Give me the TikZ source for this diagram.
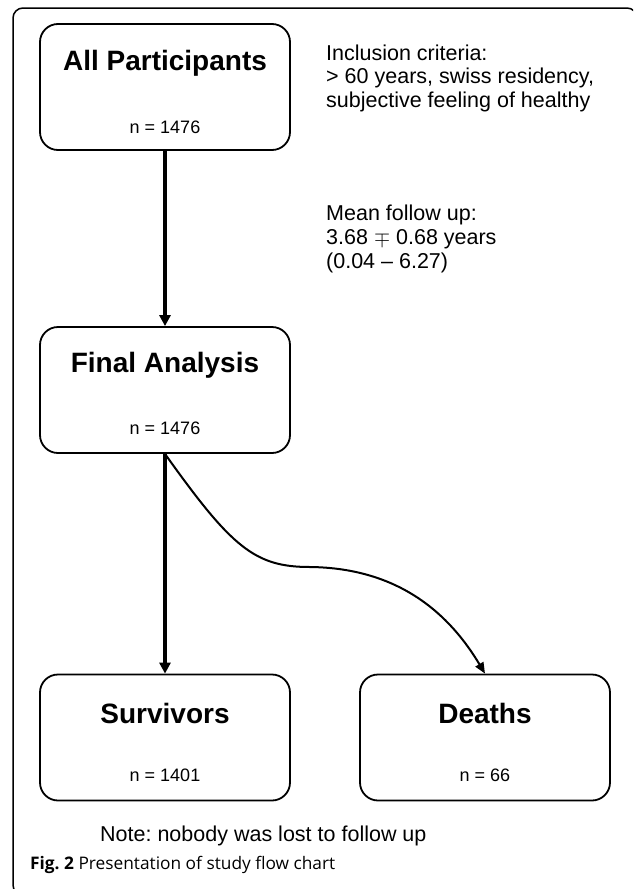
\documentclass[tikz,border=0pt]{standalone}
\usepackage{fontspec}
\setmainfont{Liberation Sans}
\newfontfamily\capfont{Open Sans}
\usetikzlibrary{arrows.meta}
\frenchspacing
\begin{document}
\begin{tikzpicture}[x=1pt,y=-1pt,
  flowbox/.style={draw=black, line width=1.8pt, rounded corners=18pt, minimum width=250pt, minimum height=126pt, inner sep=0pt},
  boxtitle/.style={font=\fontsize{28}{30}\selectfont\bfseries, inner sep=0pt},
  boxcount/.style={font=\fontsize{18}{20}\selectfont, inner sep=0pt},
  sidetext/.style={font=\fontsize{21.5}{24}\selectfont, inner sep=0pt, anchor=base west},
  thickarrow/.style={line width=3.5pt, -{Triangle[length=11pt,width=11pt]}},
  curvearrow/.style={line width=2pt, -{Triangle[length=11pt,width=9pt]}}
]
\useasboundingbox (0,0) rectangle (633,889);
\begin{scope}
\clip (0,0) rectangle (633,889);
\draw[line width=1.5pt, rounded corners=10pt] (13,8) rectangle (637,895);
\end{scope}

% boxes
\node[flowbox] (ap) at (165,87) {};
\node[flowbox] (fa) at (165,390) {};
\node[flowbox] (sv) at (165,737.5) {};
\node[flowbox] (de) at (485,737.5) {};

\node[boxtitle] (apt) at (165,63) {All Participants};
\node[boxcount] (apn) at (165,127) {n = 1476};
\node[boxtitle] (fat) at (165,365) {Final Analysis};
\node[boxcount] (fan) at (165,428) {n = 1476};
\node[boxtitle] (svt) at (165,713) {Survivors};
\node[boxcount] (svn) at (165,775) {n = 1401};
\node[boxtitle] (det) at (485,713) {Deaths};
\node[boxcount] (den) at (485,775) {n = 66};

% side texts
\node[sidetext] (inc1) at (326,60) {Inclusion criteria:};
\node[sidetext] (inc2) at (326,83.5) {> 60 years, swiss residency,};
\node[sidetext] (inc3) at (326,107) {subjective feeling of healthy};
\node[sidetext] (mf1) at (326,220) {Mean follow up:};
\node[sidetext] (mf2) at (326,244) {3.68 $\mp$ 0.68 years};
\node[sidetext] (mf3) at (326,268) {(0.04 – 6.27)};

\node[font=\fontsize{21.5}{24}\selectfont, inner sep=0pt, anchor=base west] (note) at (100,841) {Note: nobody was lost to follow up};
\node[font=\capfont\fontsize{17.3}{20}\selectfont, inner sep=0pt, anchor=base west] (cap) at (30,869) {\textbf{Fig. 2} Presentation of study flow chart};

% connectors
\draw[thickarrow] (ap.south) -- (fa.north);
\draw[thickarrow] (fa.south) -- (sv.north);
\draw[curvearrow] (fa.south) .. controls (232,548) and (255,567) .. (310,567)
  .. controls (400,568) and (450,615) .. (de.north);
\end{tikzpicture}
\end{document}
